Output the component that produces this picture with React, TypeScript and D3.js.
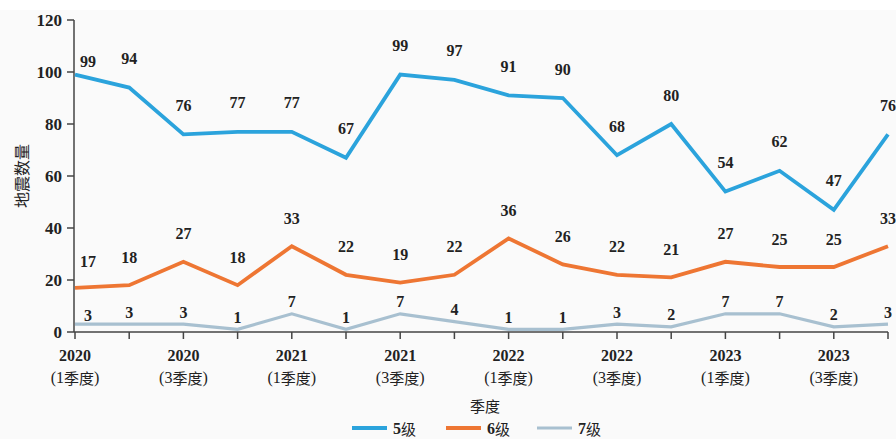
import React from "react";
import * as d3 from "d3";

const quarters = [
  "2020-1", "2020-2", "2020-3", "2020-4",
  "2021-1", "2021-2", "2021-3", "2021-4",
  "2022-1", "2022-2", "2022-3", "2022-4",
  "2023-1", "2023-2", "2023-3", "2023-4",
];
const mag5 = [99, 94, 76, 77, 77, 67, 99, 97, 91, 90, 68, 80, 54, 62, 47, 76];
const mag6 = [17, 18, 27, 18, 33, 22, 19, 22, 36, 26, 22, 21, 27, 25, 25, 33];
const mag7 = [3, 3, 3, 1, 7, 1, 7, 4, 1, 1, 3, 2, 7, 7, 2, 3];
const yTicks = [0, 20, 40, 60, 80, 100, 120];
const seriesNames = ["5级", "6级", "7级"];
const xTitle = "季度";
const yTitle = "地震数量";

const W = 896;
const H = 439;
const colors = ["#2ba3dc", "#ee7633", "#a8c0d0"];
const widths = [3.8, 3.8, 3.2];
const labelDy = [-29, -28, -12];
const firstDy = [-13, -26, -9];

export default function App() {
  const x = d3.scalePoint<string>().domain(quarters).range([75, 888]);
  const y = d3.scaleLinear().domain([0, 120]).range([332, 20]);
  const series = [mag5, mag6, mag7];
  const line = d3
    .line<number>()
    .x((_, i) => x(quarters[i]) as number)
    .y((d) => y(d));

  const serif = "'Liberation Serif', 'DejaVu Serif', serif";
  const cjk = "'Noto Sans CJK SC', sans-serif";
  const textColor = "#222";

  return (
    <svg
      width={W}
      height={H}
      style={{ position: "fixed", left: 0, top: 0, display: "block" }}
    >
      <rect x={0} y={0} width={W} height={H} fill="#ffffff" />
      <rect x={0} y={10} width={W} height={H - 10} fill="#fafafa" />

      {/* y axis */}
      <line x1={74} x2={74} y1={y(120)} y2={y(0)} stroke="#444" strokeWidth={1.5} />
      {yTicks.map((t) => (
        <g key={t}>
          <line x1={67} x2={74} y1={y(t)} y2={y(t)} stroke="#444" strokeWidth={1.5} />
          <text
            x={62}
            y={y(t)}
            textAnchor="end"
            dominantBaseline="central"
            fontFamily={serif}
            fontWeight="bold"
            fontSize={17}
            fill={textColor}
          >
            {t}
          </text>
        </g>
      ))}
      <text
        transform={`translate(21,${y(60)}) rotate(-90)`}
        textAnchor="middle"
        dominantBaseline="central"
        fontFamily={cjk}
        fontSize={16}
        fill={textColor}
      >
        {yTitle}
      </text>

      {/* x axis */}
      <line x1={74} x2={888} y1={y(0)} y2={y(0)} stroke="#444" strokeWidth={1.5} />
      {quarters.map((q, i) => (
        <g key={q}>
          <line
            x1={x(q)}
            x2={x(q)}
            y1={y(0)}
            y2={y(0) + 7}
            stroke="#444"
            strokeWidth={1.5}
          />
          {i % 2 === 0 && (
            <>
              <text
                x={x(q)}
                y={355}
                textAnchor="middle"
                dominantBaseline="central"
                fontFamily={serif}
                fontWeight="bold"
                fontSize={16}
                fill={textColor}
              >
                {q.split("-")[0]}
              </text>
              <text
                x={x(q)}
                y={377}
                textAnchor="middle"
                dominantBaseline="central"
                fontFamily={serif}
                fontSize={16}
                fill={textColor}
              >
                {"("}
                <tspan fontFamily={serif}>{q.split("-")[1]}</tspan>
                <tspan fontFamily={cjk} fontSize={15}>季度</tspan>
                {")"}
              </text>
            </>
          )}
        </g>
      ))}
      <text
        x={485}
        y={405}
        textAnchor="middle"
        dominantBaseline="central"
        fontFamily={cjk}
        fontSize={15}
        fill={textColor}
      >
        {xTitle}
      </text>

      {/* lines */}
      {series
        .map((s, k) => (
          <path
            key={k}
            d={line(s) || ""}
            fill="none"
            stroke={colors[k]}
            strokeWidth={widths[k]}
            strokeLinejoin="miter"
          />
        ))
        .reverse()}

      {/* labels */}
      {series.map((s, k) =>
        s.map((v, i) => (
          <text
            key={`${k}-${i}`}
            x={(x(quarters[i]) as number) + (i === 0 ? 13 : 0)}
            y={y(v) + (i === 0 ? firstDy[k] : labelDy[k])}
            textAnchor="middle"
            dominantBaseline="central"
            fontFamily={serif}
            fontWeight="bold"
            fontSize={16}
            fill={textColor}
          >
            {v}
          </text>
        ))
      )}

      {/* legend */}
      {seriesNames.map((n, k) => {
        const lx = [352, 446, 537][k];
        return (
          <g key={n}>
            <line
              x1={lx}
              x2={lx + 35}
              y1={428}
              y2={428}
              stroke={colors[k]}
              strokeWidth={widths[k]}
            />
            <text
              x={lx + 41}
              y={428}
              dominantBaseline="central"
              fontFamily={serif}
              fontWeight="bold"
              fontSize={16}
              fill={textColor}
            >
              {n[0]}
              <tspan fontFamily={cjk} fontWeight="normal" fontSize={15}>
                {n.slice(1)}
              </tspan>
            </text>
          </g>
        );
      })}
    </svg>
  );
}
